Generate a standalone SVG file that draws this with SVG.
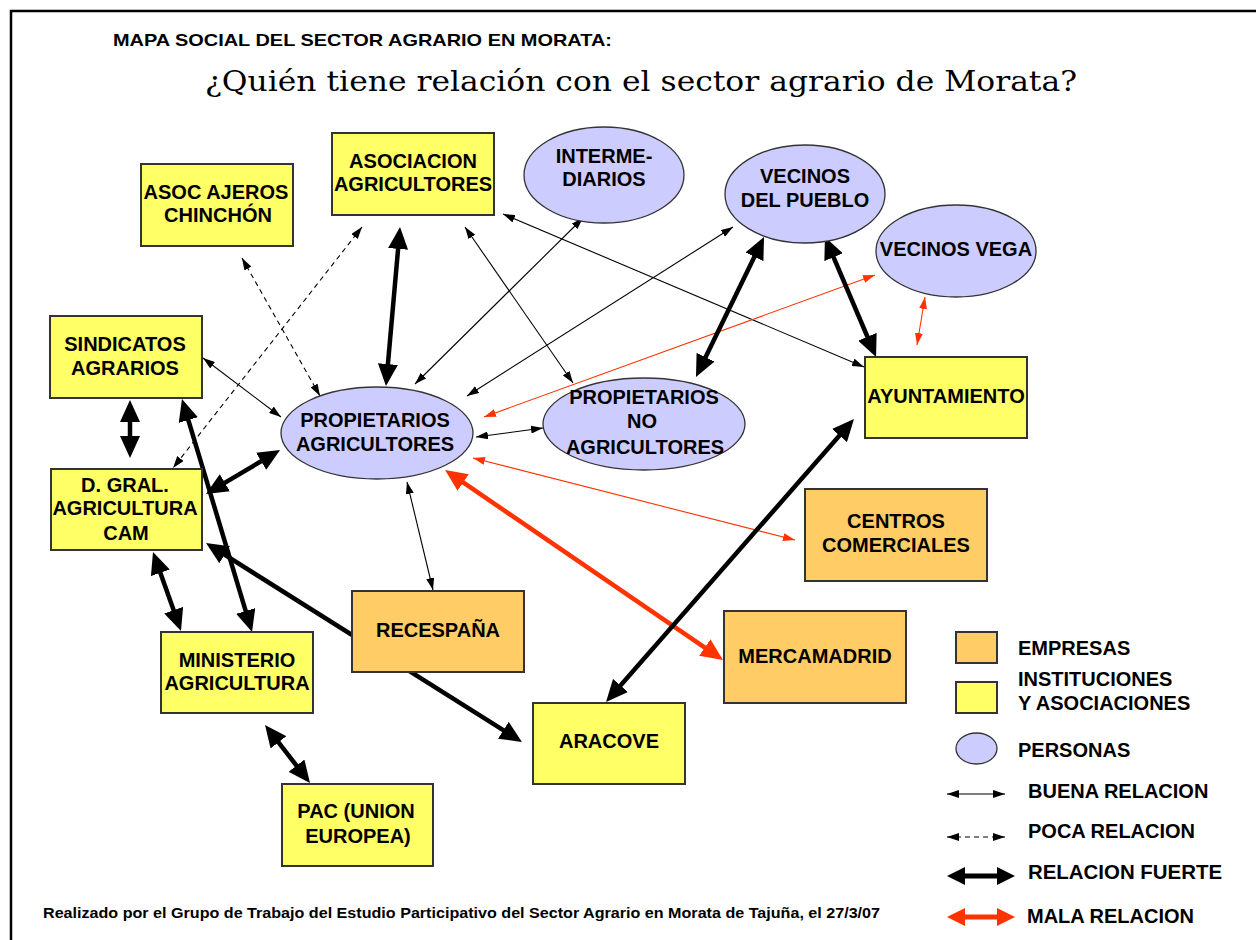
<svg xmlns="http://www.w3.org/2000/svg" width="1256" height="940" viewBox="0 0 1256 940">
<style>
.box{stroke:#333;stroke-width:2}
.inst{fill:#ffff66}
.emp{fill:#ffcc66}
.per{fill:#ccccff;stroke:#333;stroke-width:1.3}
.lbl{font-family:"Liberation Sans",Arial,sans-serif;font-weight:bold;font-size:20px;text-anchor:middle;fill:#000}
.leg{font-family:"Liberation Sans",Arial,sans-serif;font-weight:bold;font-size:20px;fill:#000}
.thin{stroke:#000;stroke-width:1.1;fill:none;marker-start:url(#a);marker-end:url(#a)}
.dash{stroke:#000;stroke-width:1.1;fill:none;stroke-dasharray:5 4;marker-start:url(#a);marker-end:url(#a)}
.thick{stroke:#000;stroke-width:4.5;fill:none;marker-start:url(#A);marker-end:url(#A)}
.rthin{stroke:#ff3300;stroke-width:1.1;fill:none;marker-start:url(#r);marker-end:url(#r)}
.rthick{stroke:#ff3300;stroke-width:4.5;fill:none;marker-start:url(#R);marker-end:url(#R)}
</style>
<defs>
<marker id="a" viewBox="0 0 12 8" refX="12" refY="4" markerWidth="12" markerHeight="8" markerUnits="userSpaceOnUse" orient="auto-start-reverse"><path d="M0,0 L12,4 L0,8 z" fill="#000"/></marker>
<marker id="r" viewBox="0 0 12 8" refX="12" refY="4" markerWidth="12" markerHeight="8" markerUnits="userSpaceOnUse" orient="auto-start-reverse"><path d="M0,0 L12,4 L0,8 z" fill="#ff3300"/></marker>
<marker id="A" viewBox="0 0 22 20" refX="16" refY="10" markerWidth="22" markerHeight="20" markerUnits="userSpaceOnUse" orient="auto-start-reverse"><path d="M0,0 L22,10 L0,20 z" fill="#000"/></marker>
<marker id="R" viewBox="0 0 22 20" refX="16" refY="10" markerWidth="22" markerHeight="20" markerUnits="userSpaceOnUse" orient="auto-start-reverse"><path d="M0,0 L22,10 L0,20 z" fill="#ff3300"/></marker>
<marker id="L" viewBox="0 0 18 18" refX="12" refY="9" markerWidth="18" markerHeight="18" markerUnits="userSpaceOnUse" orient="auto-start-reverse"><path d="M0,0 L18,9 L0,18 z" fill="#000"/></marker>
<marker id="LR" viewBox="0 0 18 18" refX="12" refY="9" markerWidth="18" markerHeight="18" markerUnits="userSpaceOnUse" orient="auto-start-reverse"><path d="M0,0 L18,9 L0,18 z" fill="#ff3300"/></marker>
</defs>
<rect width="1256" height="940" fill="#fff"/>
<path d="M11,940 V11 H1256" fill="none" stroke="#000" stroke-width="2.5"/>
<text x="113" y="46" font-family="'Liberation Sans',Arial,sans-serif" font-weight="bold" font-size="17" textLength="499" lengthAdjust="spacingAndGlyphs">MAPA SOCIAL DEL SECTOR AGRARIO EN MORATA:</text>
<text x="205" y="91" font-family="'DejaVu Serif',serif" font-size="27" textLength="872" lengthAdjust="spacingAndGlyphs">¿Quién tiene relación con el sector agrario de Morata?</text>

<g id="connectors">
<line class="thin" x1="203" y1="358" x2="281" y2="417"/>
<line class="thin" x1="503" y1="214" x2="864" y2="367"/>
<line class="thin" x1="465" y1="227" x2="573" y2="383"/>
<line class="thin" x1="583" y1="218" x2="415" y2="384"/>
<line class="thin" x1="733" y1="227" x2="467" y2="396"/>
<line class="thin" x1="476" y1="437" x2="543" y2="428"/>
<line class="thin" x1="407" y1="482" x2="433" y2="590"/>
<line class="dash" x1="242" y1="258" x2="320" y2="396"/>
<line class="dash" x1="362" y1="227" x2="173" y2="468"/>
<line class="rthin" x1="875" y1="275" x2="484" y2="417"/>
<line class="rthin" x1="925" y1="297" x2="917" y2="345"/>
<line class="rthin" x1="473" y1="458" x2="795" y2="540"/>
<line class="rthick" x1="450" y1="473.4" x2="718" y2="656.6"/>
<line class="thick" x1="399.5" y1="233" x2="386.5" y2="380"/>
<line class="thick" x1="761.4" y1="242.4" x2="698.6" y2="371.6"/>
<line class="thick" x1="827.3" y1="242.5" x2="873.7" y2="351.5"/>
<line class="thick" x1="130" y1="406" x2="130" y2="452"/>
<line class="thick" x1="183.7" y1="404.7" x2="250.3" y2="626.3"/>
<line class="thick" x1="211.1" y1="490.9" x2="274.9" y2="453.1"/>
<line class="thick" x1="155" y1="557.7" x2="179" y2="625.3"/>
<line class="thick" x1="211.1" y1="546.2" x2="516.9" y2="738.8"/>
<line class="thick" x1="268.7" y1="729.7" x2="306.3" y2="778.3"/>
<line class="thick" x1="610" y1="697.5" x2="850" y2="423.5"/>
</g>

<g id="asoc-ajeros"><rect class="box inst" x="141" y="164" width="152" height="82"/><text class="lbl" x="216" y="199">ASOC AJEROS</text><text class="lbl" x="218" y="222">CHINCHÓN</text></g>
<g id="asociacion-agricultores"><rect class="box inst" x="332" y="133" width="162" height="82"/><text class="lbl" x="413" y="168">ASOCIACION</text><text class="lbl" x="413" y="191">AGRICULTORES</text></g>
<g id="intermediarios"><ellipse class="per" cx="604" cy="175" rx="80" ry="48"/><text class="lbl" x="604" y="163">INTERME-</text><text class="lbl" x="604" y="186">DIARIOS</text></g>
<g id="vecinos-pueblo"><ellipse class="per" cx="805" cy="194" rx="80" ry="49"/><text class="lbl" x="805" y="183">VECINOS</text><text class="lbl" x="805" y="207">DEL PUEBLO</text></g>
<g id="vecinos-vega"><ellipse class="per" cx="956" cy="251" rx="80" ry="46"/><text class="lbl" x="956" y="256">VECINOS VEGA</text></g>
<g id="ayuntamiento"><rect class="box inst" x="865" y="357" width="162" height="81"/><text class="lbl" x="946" y="403">AYUNTAMIENTO</text></g>
<g id="sindicatos"><rect class="box inst" x="50" y="316" width="152" height="82"/><text class="lbl" x="125" y="351">SINDICATOS</text><text class="lbl" x="125" y="375">AGRARIOS</text></g>
<g id="propietarios-agricultores"><ellipse class="per" cx="377" cy="433" rx="96" ry="46"/><text class="lbl" x="375" y="427">PROPIETARIOS</text><text class="lbl" x="375" y="451">AGRICULTORES</text></g>
<g id="propietarios-no-agricultores"><ellipse class="per" cx="644" cy="424" rx="101" ry="46"/><text class="lbl" x="644" y="404">PROPIETARIOS</text><text class="lbl" x="642" y="428">NO</text><text class="lbl" x="645" y="454">AGRICULTORES</text></g>
<g id="dgral-agricultura"><rect class="box inst" x="51" y="469" width="151" height="81"/><text class="lbl" x="125" y="492">D. GRAL.</text><text class="lbl" x="125" y="515">AGRICULTURA</text><text class="lbl" x="126" y="540">CAM</text></g>
<g id="centros-comerciales"><rect class="box emp" x="805" y="489" width="182" height="92"/><text class="lbl" x="896" y="528">CENTROS</text><text class="lbl" x="896" y="552">COMERCIALES</text></g>
<g id="recespana"><rect class="box emp" x="352" y="591" width="172" height="81"/><text class="lbl" x="438" y="637">RECESPAÑA</text></g>
<g id="mercamadrid"><rect class="box emp" x="724" y="611" width="182" height="92"/><text class="lbl" x="815" y="663">MERCAMADRID</text></g>
<g id="ministerio"><rect class="box inst" x="161" y="632" width="152" height="81"/><text class="lbl" x="237" y="667">MINISTERIO</text><text class="lbl" x="237" y="690">AGRICULTURA</text></g>
<g id="aracove"><rect class="box inst" x="533" y="703" width="152" height="81"/><text class="lbl" x="609" y="748">ARACOVE</text></g>
<g id="pac"><rect class="box inst" x="282" y="784" width="151" height="82"/><text class="lbl" x="356" y="818">PAC (UNION</text><text class="lbl" x="358" y="843">EUROPEA)</text></g>

<g id="legend">
<rect class="box emp" x="956" y="632" width="41" height="31"/>
<text class="leg" x="1018" y="655">EMPRESAS</text>
<rect class="box inst" x="956" y="682" width="41" height="31"/>
<text class="leg" x="1018" y="686">INSTITUCIONES</text>
<text class="leg" x="1018" y="710">Y ASOCIACIONES</text>
<ellipse class="per" cx="976.5" cy="748.5" rx="20.5" ry="15.5"/>
<text class="leg" x="1018" y="757">PERSONAS</text>
<line class="thin" x1="947" y1="794" x2="1005" y2="794"/>
<text class="leg" x="1028" y="798">BUENA RELACION</text>
<line class="dash" x1="947" y1="837" x2="1005" y2="837"/>
<text class="leg" x="1028" y="838">POCA RELACION</text>
<line x1="953" y1="876" x2="1009" y2="876" stroke="#000" stroke-width="5" marker-start="url(#L)" marker-end="url(#L)"/>
<text class="leg" x="1028" y="879" textLength="194" lengthAdjust="spacingAndGlyphs">RELACION  FUERTE</text>
<line x1="953" y1="917" x2="1009" y2="917" stroke="#ff3300" stroke-width="5" marker-start="url(#LR)" marker-end="url(#LR)"/>
<text class="leg" x="1027" y="923">MALA RELACION</text>
</g>

<text x="43" y="918" font-family="'Liberation Sans',Arial,sans-serif" font-weight="bold" font-size="14" textLength="837" lengthAdjust="spacingAndGlyphs">Realizado por el Grupo de Trabajo del Estudio Participativo del Sector Agrario en Morata de Tajuña, el 27/3/07</text>
</svg>
